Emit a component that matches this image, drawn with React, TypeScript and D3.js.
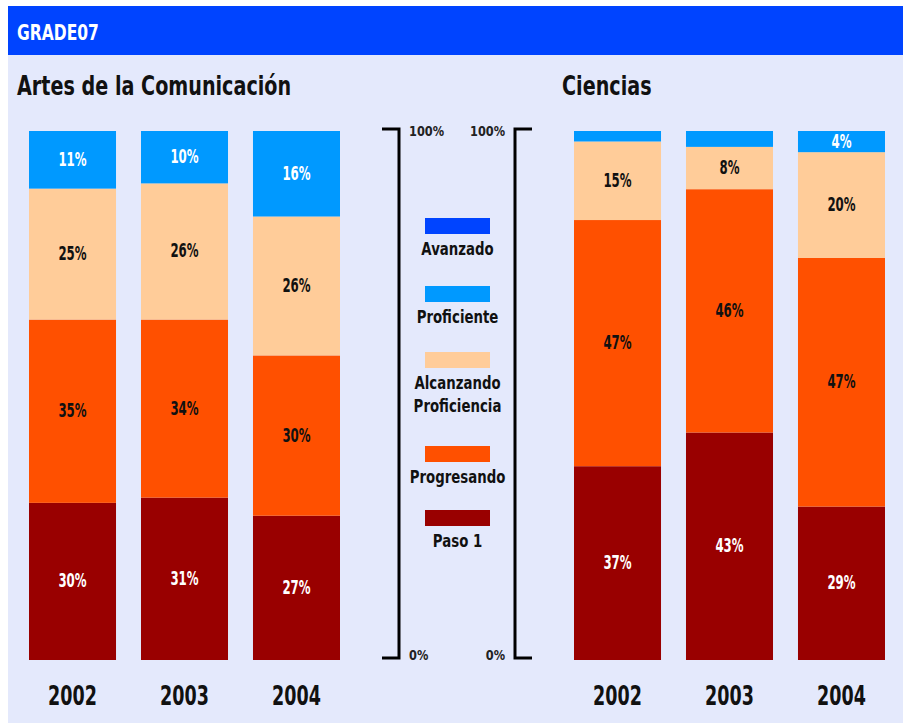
import * as React from "react"
import * as d3 from "d3"

const years = ["2002", "2003", "2004"]
const levels = ["Paso 1", "Progresando", "Alcanzando Proficiencia", "Proficiente", "Avanzado"]
const levelColors = ["#990000", "#ff5000", "#ffcc99", "#0099ff", "#0044ff"]
const labelColors = ["#ffffff", "#111111", "#111111", "#ffffff", "#ffffff"]

// values per year, in level order (Paso 1 .. Avanzado)
const artesValues = [
  [30, 35, 25, 11, 0],
  [31, 34, 26, 10, 0],
  [27, 30, 26, 16, 0],
]
const cienciasValues = [
  [37, 47, 15, 2, 0],
  [43, 46, 8, 3, 0],
  [29, 47, 20, 4, 0],
]

const legendLabels = [["Avanzado"], ["Proficiente"], ["Alcanzando", "Proficiencia"], ["Progresando"], ["Paso 1"]]
const legendColors = ["#0044ff", "#0099ff", "#ffcc99", "#ff5000", "#990000"]

const W = 903
const H = 725
const FONT = "'DejaVu Sans', sans-serif"

type Sel = d3.Selection<any, unknown, null, undefined>

// bold text squeezed horizontally to mimic a condensed face
function addText(parent: Sel, x: number, y: number, str: string, size: number, sx: number, anchor = "start", fill = "#111") {
  parent.append("g")
    .attr("transform", `translate(${x},${y}) scale(${sx},1)`)
    .append("text")
    .attr("text-anchor", anchor)
    .attr("fill", fill)
    .style("font-family", FONT)
    .style("font-weight", "bold")
    .style("font-size", `${size}px`)
    .text(str)
}

function App() {
  const svgRef = React.useRef<SVGSVGElement>(null)

  React.useEffect(() => {
    if (!svgRef.current) return
    const svg = d3.select(svgRef.current) as unknown as Sel
    svg.selectAll("*").remove()

    // background + header
    svg.append("rect").attr("x", 8).attr("y", 6).attr("width", W - 8).attr("height", H - 8).attr("fill", "#e4e9fc")
    svg.append("rect").attr("x", 8).attr("y", 6).attr("width", W - 8).attr("height", 49).attr("fill", "#0044ff")
    addText(svg, 17, 40, "GRADE07", 21, 0.74, "start", "#fff")

    const y = d3.scaleLinear().domain([0, 1]).range([660, 131])

    const stack = d3.stack<number[], number>()
      .keys(d3.range(levels.length))
      .value((d, k) => d[k])
      .offset(d3.stackOffsetExpand)

    const drawPanel = (title: string, titleX: number, values: number[][], range: [number, number]) => {
      addText(svg, titleX, 95, title, 27, 0.71)

      const x = d3.scaleBand<string>().domain(years).range(range).paddingInner(0.223).paddingOuter(0)
      const series = stack(values)
      const g = svg.append("g")

      series.forEach((s, k) => {
        s.forEach((d, i) => {
          const raw = values[i][k]
          if (raw <= 0) return
          const x0 = x(years[i])!
          g.append("rect")
            .attr("x", x0)
            .attr("y", y(d[1]))
            .attr("width", x.bandwidth())
            .attr("height", y(d[0]) - y(d[1]))
            .attr("fill", levelColors[k])
          if (raw >= 4) {
            addText(g, x0 + x.bandwidth() / 2, (y(d[0]) + y(d[1])) / 2 + 6, `${raw}%`, 19, 0.62, "middle", labelColors[k])
          }
        })
      })

      years.forEach((yr) => {
        addText(g, x(yr)! + x.bandwidth() / 2, 705, yr, 27, 0.65, "middle")
      })
    }

    drawPanel("Artes de la Comunicación", 17, artesValues, [29, 340])
    drawPanel("Ciencias", 562, cienciasValues, [574, 885])

    // scale brackets
    const bracket = d3.scaleLinear().domain([0, 1]).range([658, 129])
    const drawBracket = (xLine: number, xEnd: number, labelX: number, anchor: string) => {
      const p = d3.path()
      p.moveTo(xEnd, bracket(1))
      p.lineTo(xLine, bracket(1))
      p.lineTo(xLine, bracket(0))
      p.lineTo(xEnd, bracket(0))
      svg.append("path").attr("d", p.toString()).attr("fill", "none").attr("stroke", "#000").attr("stroke-width", 3)
      ;[1, 0].forEach((v) => {
        addText(svg, labelX, bracket(v) + (v === 1 ? 7 : 2), d3.format(".0%")(v), 14, 0.81, anchor, "#222")
      })
    }
    drawBracket(399, 382, 409, "start")
    drawBracket(515, 532, 505, "end")

    // legend
    const swatchY = [218, 286, 352, 446, 510]
    const lg = svg.append("g")
    legendLabels.forEach((lines, i) => {
      lg.append("rect").attr("x", 425).attr("y", swatchY[i]).attr("width", 65).attr("height", 16).attr("fill", legendColors[i])
      lines.forEach((line, j) => {
        addText(lg, 457.5, swatchY[i] + 37 + j * 23, line, 18, 0.74, "middle")
      })
    })
  }, [])

  return (
    <svg
      ref={svgRef}
      width={W}
      height={H}
      viewBox={`0 0 ${W} ${H}`}
      style={{ position: "absolute", left: 0, top: 0, display: "block" }}
    />
  )
}

export default App
